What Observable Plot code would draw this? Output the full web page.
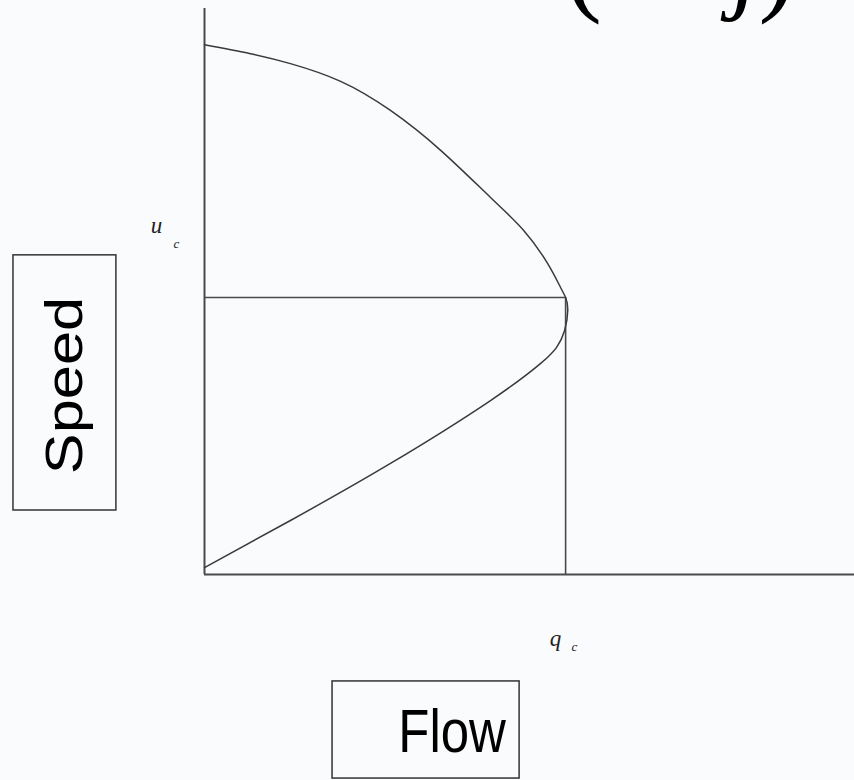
<!DOCTYPE html>
<html><head><meta charset="utf-8">
<script src="https://cdn.jsdelivr.net/npm/d3@7"></script>
<script src="https://cdn.jsdelivr.net/npm/@observablehq/plot@0.6"></script>
<style>html,body{margin:0;padding:0;background:#fafbfd;overflow:hidden}</style>
</head><body><div id="chart"></div>
<script>
// Speed–flow relationship, flow in units of capacity q_c, speed in units of u_c
const uncongestedFlow  = [0, 0.127, 0.238, 0.377, 0.515, 0.654, 0.792, 0.884, 0.950, 0.986, 1.000, 1.006];
const uncongestedSpeed = [1.912, 1.880, 1.844, 1.780, 1.675, 1.531, 1.361, 1.242, 1.123, 1.036, 1.000, 0.955];
const congestedFlow    = [0.997, 0.975, 0.931, 0.792, 0.515, 0.238, 0];
const congestedSpeed   = [0.880, 0.820, 0.762, 0.628, 0.401, 0.195, 0.025];
const capacityFlow = 1.0;   // q_c
const criticalSpeed = 1.0;  // u_c
const flowMax = 1.8;
const speedMax = 2.043;
const axisTitles = {x: "Flow", y: "Speed"};
const tickSymbols = {x: ["q", "c"], y: ["u", "c"]};
const formulaBrackets = ["(", ")"];
const formulaLetters = ["k", "j"];

const curve = [
  ...uncongestedFlow.map((f, i) => ({flow: f, speed: uncongestedSpeed[i]})),
  ...congestedFlow.map((f, i) => ({flow: f, speed: congestedSpeed[i]}))
];

const ink = "#3a3a3a";
const serif = "'Liberation Serif', 'Times New Roman', serif";
const sans = "'Liberation Sans', Arial, sans-serif";

const chart = Plot.plot({
  width: 854, height: 780,
  marginLeft: 204, marginRight: 0, marginTop: 8, marginBottom: 206,
  x: {domain: [0, flowMax], axis: null},
  y: {domain: [0, speedMax], axis: null},
  style: {background: "#fafbfd", overflow: "visible"},
  marks: [
    // axes
    Plot.ruleX([0], {y1: 0, y2: speedMax, stroke: "#4a4a4a", strokeWidth: 2}),
    Plot.ruleY([0], {x1: 0, x2: flowMax, stroke: "#4a4a4a", strokeWidth: 2}),
    // capacity guide lines
    Plot.ruleY([criticalSpeed], {x1: 0, x2: capacityFlow, stroke: "#4a4a4a", strokeWidth: 1.6}),
    Plot.ruleX([capacityFlow], {y1: 0, y2: criticalSpeed, stroke: "#4a4a4a", strokeWidth: 1.6}),
    // speed-flow curve
    Plot.line(curve, {x: "flow", y: "speed", curve: "natural", stroke: ink, strokeWidth: 1.5}),
    // tick symbols
    Plot.text([tickSymbols.y[0]], {x: -0.133, y: 1.26, fontSize: 23, fontStyle: "italic", fontFamily: serif, fill: "#222"}),
    Plot.text([tickSymbols.y[1]], {x: -0.078, y: 1.195, fontSize: 13, fontStyle: "italic", fontFamily: serif, fill: "#222"}),
    Plot.text([tickSymbols.x[0]], {x: 0.972, y: -0.231, fontSize: 23, fontStyle: "italic", fontFamily: serif, fill: "#222"}),
    Plot.text([tickSymbols.x[1]], {x: 1.024, y: -0.262, fontSize: 13, fontStyle: "italic", fontFamily: serif, fill: "#222"}),
    // axis title boxes
    Plot.rect([0], {x1: -0.529, x2: -0.244, y1: 0.231, y2: 1.152, fill: "none", stroke: "#333", strokeWidth: 1.5}),
    Plot.text([axisTitles.y], {x: -0.3864, y: 0.682, rotate: -90, fontSize: 52, fontFamily: sans, fill: "#000"}),
    Plot.rect([0], {x1: 0.3546, x2: 0.8726, y1: -0.386, y2: -0.7365, fill: "none", stroke: "#333", strokeWidth: 1.5}),
    Plot.text([axisTitles.x], {x: 0.6856, y: -0.570, fontSize: 51, fontFamily: sans, fill: "#000"}),
    // cropped formula at the top
    Plot.text(formulaBrackets, {
      x: (d, i) => [1.05, 1.585][i],
      y: 2.07, lineAnchor: "bottom", fontSize: 110, fontFamily: serif, fill: "#000"
    }),
    Plot.text(formulaLetters, {
      x: (d, i) => [1.41, 1.50][i],
      y: 2.075, lineAnchor: "bottom", fontSize: 104, fontStyle: "italic", fontFamily: serif, fill: "#000"
    })
  ]
});
// the reference lettering is stretched vertically
d3.select(chart).selectAll("text").each(function() {
  const t = this.textContent;
  if (t === "Flow" || t === "Speed") {
    const tr = this.getAttribute("transform") || "";
    this.setAttribute("transform", tr.replace(/(translate\([^)]*\))/, "$1 scale(1,1.18)"));
  }
});
document.getElementById("chart").appendChild(chart);
</script>
</body></html>
